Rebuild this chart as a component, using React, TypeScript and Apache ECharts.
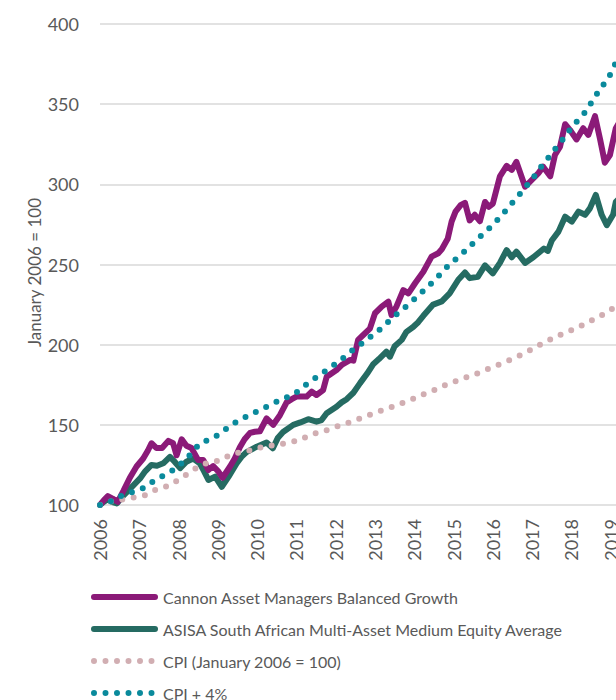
import React, { useEffect, useRef } from "react";
import * as echarts from "echarts";

const seriesNames = [
  "Cannon Asset Managers Balanced Growth",
  "ASISA South African Multi-Asset Medium Equity Average",
  "CPI (January 2006 = 100)",
  "CPI + 4%",
];

const yTicks = [100, 150, 200, 250, 300, 350, 400];

const cannon: [number, number][] = [
  [2006.0, 100], [2006.1, 103], [2006.2, 105.5], [2006.32, 104], [2006.45, 102], [2006.6, 109],
  [2006.76, 117], [2006.93, 124], [2007.1, 129], [2007.22, 134], [2007.31, 138.5], [2007.44, 135.5],
  [2007.58, 135.5], [2007.74, 140], [2007.86, 138.5], [2007.95, 131], [2008.08, 141], [2008.2, 137],
  [2008.33, 135.5], [2008.5, 128], [2008.63, 128], [2008.76, 121.8], [2008.88, 124.3], [2009.01, 121],
  [2009.12, 117], [2009.31, 124], [2009.43, 129], [2009.56, 136], [2009.68, 141], [2009.82, 145],
  [2009.94, 145.7], [2010.07, 146], [2010.24, 154], [2010.41, 150], [2010.58, 156], [2010.75, 164],
  [2010.88, 166], [2011.0, 167.6], [2011.26, 167.6], [2011.39, 170.7], [2011.51, 168.6], [2011.68, 171.7],
  [2011.77, 180], [2011.9, 182.2], [2012.02, 184.2], [2012.15, 187.3], [2012.37, 190.5], [2012.45, 190],
  [2012.57, 203], [2012.7, 206], [2012.87, 210], [2013.0, 219.6], [2013.17, 223.7], [2013.34, 226.8],
  [2013.42, 218.5], [2013.55, 224], [2013.72, 234], [2013.85, 232], [2014.02, 238.3], [2014.23, 245.5],
  [2014.44, 254.9], [2014.61, 257], [2014.7, 259.5], [2014.85, 266], [2014.95, 276.7], [2015.05, 283],
  [2015.18, 287], [2015.29, 288.5], [2015.41, 277.5], [2015.54, 281], [2015.67, 277], [2015.8, 289],
  [2015.9, 286], [2016.0, 288], [2016.18, 305], [2016.35, 311.5], [2016.48, 309], [2016.6, 314],
  [2016.82, 298.5], [2016.99, 302.7], [2017.16, 307], [2017.28, 311], [2017.46, 305], [2017.58, 318.3],
  [2017.71, 323.5], [2017.84, 337.5], [2017.96, 334], [2018.13, 328], [2018.3, 335], [2018.43, 330.8],
  [2018.6, 342.5], [2018.73, 328], [2018.85, 313.5], [2018.98, 318.3], [2019.13, 335], [2019.25, 340],
];

const asisa: [number, number][] = [
  [2006.0, 100], [2006.1, 102], [2006.18, 103.5], [2006.3, 102], [2006.43, 101], [2006.6, 106],
  [2006.8, 111], [2007.02, 116.6], [2007.15, 121], [2007.31, 125], [2007.45, 124.5], [2007.61, 126],
  [2007.78, 130], [2007.9, 127], [2008.04, 123], [2008.2, 127], [2008.37, 129], [2008.54, 126],
  [2008.65, 121], [2008.76, 115.6], [2008.93, 117.7], [2009.1, 111.4], [2009.3, 118.7], [2009.48, 126],
  [2009.6, 130], [2009.73, 133], [2009.99, 136.4], [2010.24, 139], [2010.4, 135.4], [2010.53, 142],
  [2010.66, 145.5], [2010.92, 150], [2011.1, 151.5], [2011.3, 153.5], [2011.51, 152], [2011.64, 153],
  [2011.77, 157.2], [2012.02, 161.3], [2012.15, 164], [2012.28, 166], [2012.45, 170], [2012.62, 176],
  [2012.8, 182], [2012.96, 188], [2013.1, 191], [2013.29, 195.6], [2013.38, 192.5], [2013.5, 199],
  [2013.68, 203], [2013.8, 208], [2013.97, 211], [2014.1, 214], [2014.23, 218], [2014.48, 225],
  [2014.7, 227], [2014.9, 232], [2015.12, 240.5], [2015.29, 245], [2015.41, 241.5], [2015.62, 242.4],
  [2015.8, 249.5], [2016.0, 244.5], [2016.18, 251], [2016.35, 259], [2016.48, 254.5], [2016.6, 258],
  [2016.82, 251], [2017.03, 254.5], [2017.3, 260], [2017.4, 258.5], [2017.5, 265], [2017.67, 270.5],
  [2017.84, 279.8], [2018.01, 276.7], [2018.18, 283], [2018.35, 281], [2018.47, 285], [2018.62, 293.4],
  [2018.77, 281], [2018.9, 274.5], [2019.06, 281], [2019.13, 289], [2019.25, 292],
];

const cpi: [number, number][] = [
  [2006.0, 100], [2006.25, 102], [2006.6, 103.5], [2006.89, 104.8], [2007.16, 106.2], [2007.44, 109.8],
  [2007.72, 111.8], [2007.99, 115.6], [2008.25, 119.8], [2008.5, 123.9], [2008.77, 126.6], [2009.05, 127.7],
  [2009.32, 131.2], [2009.6, 133.3], [2009.9, 134.3], [2010.2, 136.8], [2010.5, 137.4], [2010.79, 138.9],
  [2011.09, 140.5], [2011.37, 144], [2011.66, 145.7], [2011.94, 148.2], [2012.23, 150.5], [2012.51, 153],
  [2012.8, 155.7], [2013.08, 158.2], [2013.38, 160.7], [2013.68, 163.4], [2013.95, 166], [2014.23, 169],
  [2014.51, 171.7], [2014.8, 174.9], [2015.08, 177.5], [2015.36, 180], [2015.65, 182.5], [2015.92, 185.3],
  [2016.2, 188], [2016.49, 191], [2016.77, 194.2], [2017.04, 197.7], [2017.3, 201.3], [2017.58, 204.6],
  [2017.85, 207.7], [2018.13, 210.2], [2018.4, 213.7], [2018.67, 217], [2018.94, 220.6], [2019.13, 224],
  [2019.25, 225.5],
];

const cpiPlus4: [number, number][] = [
  [2006.0, 100], [2006.3, 102.5], [2006.55, 105.8], [2006.85, 108.3], [2007.13, 110.8], [2007.37, 115],
  [2007.64, 118.7], [2007.91, 122.4], [2008.12, 127], [2008.35, 132.8], [2008.54, 138.5], [2008.81, 141],
  [2009.08, 144.7], [2009.3, 149.3], [2009.56, 153], [2009.83, 156.4], [2010.11, 159.7], [2010.38, 163],
  [2010.67, 166.5], [2010.92, 168.6], [2011.18, 173.8], [2011.41, 178], [2011.66, 182.2], [2011.92, 186.7],
  [2012.15, 190.9], [2012.38, 195.6], [2012.61, 199.8], [2012.87, 204.6], [2013.11, 209.2], [2013.34, 214.4],
  [2013.58, 219.6], [2013.8, 224], [2014.03, 229], [2014.25, 234], [2014.48, 239.3], [2014.7, 245],
  [2014.9, 250.2], [2015.14, 255], [2015.36, 260], [2015.58, 265.3], [2015.82, 270.5], [2016.03, 275.5],
  [2016.24, 281], [2016.43, 286.7], [2016.63, 292.3], [2016.83, 298.2], [2017.03, 304.2], [2017.2, 310],
  [2017.39, 315.8], [2017.58, 321.9], [2017.77, 327.7], [2017.96, 334], [2018.13, 339], [2018.34, 344.7],
  [2018.51, 351], [2018.67, 357.2], [2018.85, 363.4], [2019.02, 369.7], [2019.13, 376], [2019.25, 381],
];

const colors = ["#8B1A78", "#256B62", "#D1AEB2", "#0A8A9C"];
const FONT = "Lato";
const TEXT = "#595959";

export default function App() {
  const ref = useRef<HTMLDivElement>(null);
  useEffect(() => {
    if (!ref.current) return;
    const chart = echarts.init(ref.current, null, { renderer: "svg" });
    const solid = (w: number) => ({ width: w, type: "solid" as const, cap: "round" as const, join: "round" as const });
    const dotted = { width: 6, type: [0, 11.5], cap: "round" as const, join: "round" as const };
    chart.setOption({
      animation: false,
      textStyle: { fontFamily: FONT, color: TEXT },
      grid: { left: 100, top: 24, right: 10, bottom: 235, containLabel: false },
      xAxis: {
        type: "value",
        min: 2006,
        max: 2020,
        interval: 1,
        axisLine: { show: false },
        axisTick: { show: false },
        splitLine: { show: false },
        axisLabel: {
          rotate: 90,
          margin: 14,
          fontSize: 18,
          fontFamily: FONT,
          color: TEXT,
          formatter: (v: number) => String(v),
        },
      },
      yAxis: {
        type: "value",
        min: yTicks[0],
        max: yTicks[yTicks.length - 1],
        interval: 50,
        name: "January 2006 = 100",
        nameLocation: "middle",
        nameGap: 57,
        nameMoveOverlap: false,
        nameTextStyle: { fontSize: 17, fontFamily: FONT, color: TEXT, padding: [0, 16, 0, 0] },
        axisLine: { show: false },
        axisTick: { show: false },
        axisLabel: { margin: 21, fontSize: 18, fontFamily: FONT, color: TEXT },
        splitLine: { lineStyle: { color: "#D9D9D9", width: 1.5 } },
      },
      legend: {
        orient: "vertical",
        left: 91,
        top: 587,
        padding: 0,
        itemWidth: 61,
        itemHeight: 6,
        itemGap: 12,
        data: seriesNames,
        itemStyle: { opacity: 0 },
        lineStyle: { width: 6 },
        textStyle: { fontSize: 16, fontFamily: FONT, color: TEXT, lineHeight: 20, padding: [0, 0, 0, 3] },
      },
      series: [
        {
          name: seriesNames[1], type: "line", data: asisa, symbol: "none", color: colors[1],
          lineStyle: solid(6), z: 2,
        },
        {
          name: seriesNames[0], type: "line", data: cannon, symbol: "none", color: colors[0],
          lineStyle: solid(6), z: 3,
        },
        {
          name: seriesNames[2], type: "line", data: cpi, symbol: "none", color: colors[2],
          lineStyle: dotted, z: 4,
        },
        {
          name: seriesNames[3], type: "line", data: cpiPlus4, symbol: "none", color: colors[3],
          lineStyle: dotted, z: 5,
        },
      ],
    });
    return () => chart.dispose();
  }, []);
  return (
    <div style={{ position: "absolute", left: 0, top: 0, width: 616, height: 700, overflow: "hidden", background: "#fff" }}>
      <div ref={ref} style={{ width: 660, height: 740 }} />
    </div>
  );
}
